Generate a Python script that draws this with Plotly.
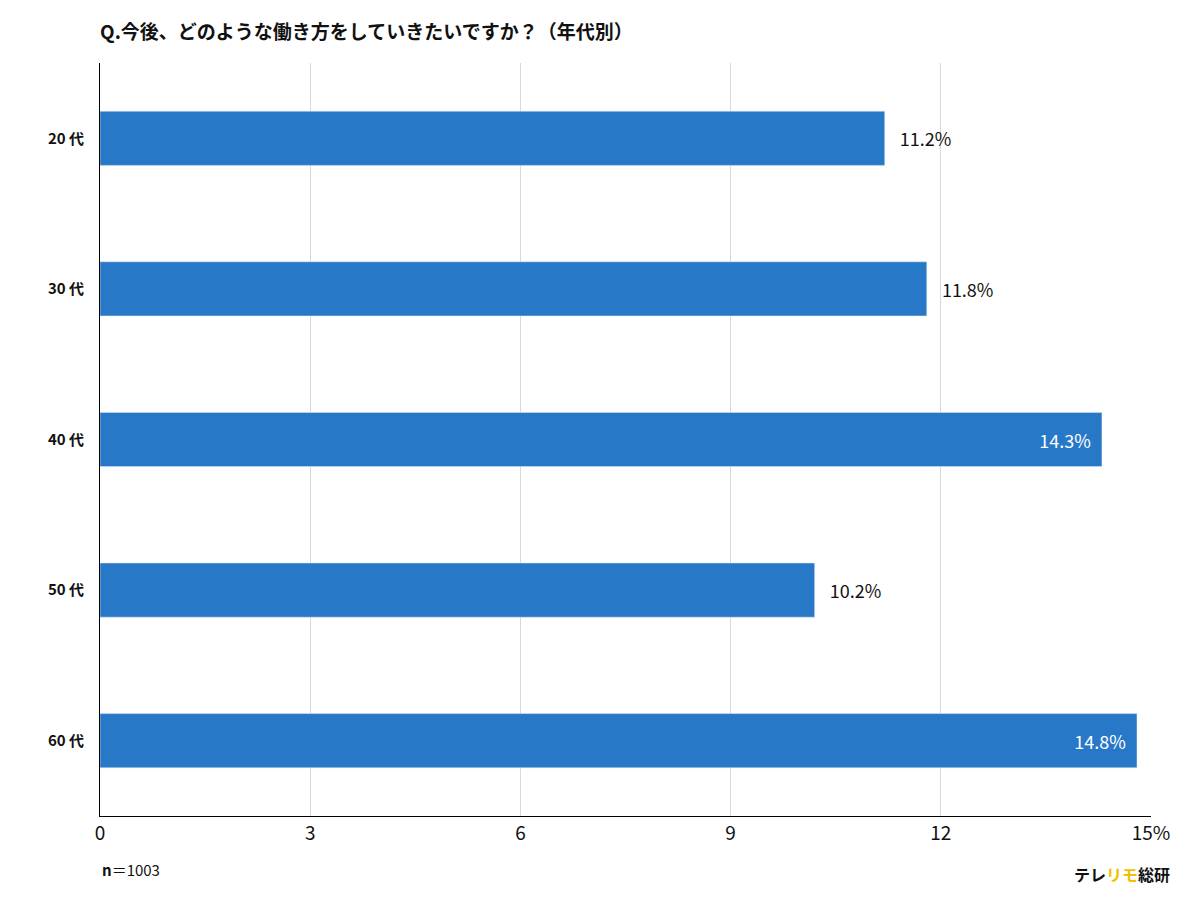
import plotly.graph_objects as go

categories = ["20 代", "30 代", "40 代", "50 代", "60 代"]
values = [11.2, 11.8, 14.3, 10.2, 14.8]
positions = ["outside", "outside", "inside", "outside", "inside"]
tick_vals = [0, 3, 6, 9, 12, 15]
tick_text = ["0", "3", "6", "9", "12", "15%"]

font = "Noto Sans CJK JP"
labels = [("   " if p == "outside" else "") + f"{v:.1f}%" + ("  " if p == "inside" else "")
          for v, p in zip(values, positions)]
fig = go.Figure(go.Bar(
    x=values, y=[f"<b>{c}</b>" for c in categories], orientation="h",
    marker_color="#2878c8", width=0.36,
    text=labels, textposition=positions,
    insidetextanchor="end", cliponaxis=False,
    textfont=dict(family=font, size=18),
    insidetextfont=dict(color="white", family=font, size=18),
    outsidetextfont=dict(color="#111", family=font, size=18),
))
fig.update_layout(
    width=1200, height=903, paper_bgcolor="white", plot_bgcolor="white",
    margin=dict(l=92, r=57, t=55, b=95, autoexpand=False),
    font=dict(family=font, color="#111"),
    showlegend=False,
    title=dict(text="<b>Q.今後、どのような働き方をしていきたいですか？（年代別）</b>",
               x=92/1200, xanchor="left", y=1-24/903, yanchor="middle", font=dict(size=19)),
    annotations=[
        dict(text="<b>n</b>＝1003", x=0, y=-0.087, xref="paper", yref="paper",
             showarrow=False, xanchor="left", font=dict(size=15)),
        dict(text="<b>テレ<span style='color:#f0c000'>リモ</span>総研</b>", x=1.02, y=-0.095,
             xref="paper", yref="paper", showarrow=False, xanchor="right", font=dict(size=16)),
    ],
)
fig.update_xaxes(range=[0, 15], tickvals=tick_vals, ticktext=tick_text, showgrid=True,
                 gridcolor="#d9d9d9", showline=True, linecolor="black", zeroline=False,
                 tickfont=dict(size=19), ticks="", automargin=False)
fig.update_yaxes(autorange="reversed", showline=True, linecolor="black",
                 tickfont=dict(size=15), ticks="", ticklabelstandoff=12, automargin=False)
fig.write_html("out.html")
